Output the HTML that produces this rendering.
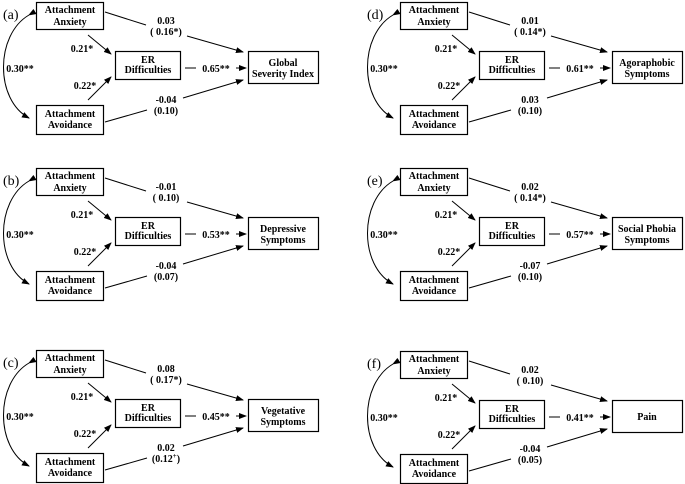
<!DOCTYPE html>
<html><head><meta charset="utf-8"><style>
html,body{margin:0;padding:0;background:#fff;}
svg{display:block;}
text{font-family:"Liberation Serif",serif;font-weight:bold;font-size:10px;fill:#000;}
.lab{font-weight:normal;font-size:14px;}
</style></head><body>
<svg width="685" height="484" viewBox="0 0 685 484" xmlns="http://www.w3.org/2000/svg">
<defs>
<marker id="ar" markerWidth="8" markerHeight="6" refX="7" refY="3" orient="auto" markerUnits="userSpaceOnUse">
<path d="M0,0 L8,3 L0,6 z" fill="#000"/></marker>
<g id="base" fill="none" stroke="#000">
<rect x="36.5" y="2.5" width="67" height="27" stroke-width="1.2"/>
<rect x="115.5" y="51.5" width="65" height="28" stroke-width="1.2"/>
<rect x="248.5" y="51.5" width="70" height="32" stroke-width="1.2"/>
<rect x="36.5" y="105.5" width="67" height="29" stroke-width="1.2"/>
<path d="M29,15 C-5,35 -5,100 29,118" stroke-width="1" marker-start="url(#ar)" marker-end="url(#ar)"/>
<path d="M105,12 L146,25" stroke-width="1"/>
<path d="M187,36 L243,52" stroke-width="1" marker-end="url(#ar)"/>
<path d="M88,35 L111,54" stroke-width="1" marker-end="url(#ar)"/>
<path d="M88,100 L111,77" stroke-width="1" marker-end="url(#ar)"/>
<path d="M185,68 L196,68" stroke-width="1"/>
<path d="M236,68 L246,68" stroke-width="1" marker-end="url(#ar)"/>
<path d="M105,122 L147,110" stroke-width="1"/>
<path d="M183,98 L243,80" stroke-width="1" marker-end="url(#ar)"/>
</g>
<g id="common" text-anchor="middle">
<text x="70" y="13">Attachment</text><text x="70" y="25">Anxiety</text>
<text x="148" y="63">ER</text><text x="148" y="73">Difficulties</text>
<text x="70" y="117">Attachment</text><text x="70" y="128">Avoidance</text>
<text x="20" y="72">0.30**</text>
<text x="82" y="52">0.21*</text>
<text x="85" y="89">0.22*</text>
</g>
</defs>

<!-- (a) -->
<g transform="translate(0,0)"><use href="#base"/><use href="#common"/>
<text class="lab" x="3" y="19">(a)</text>
<g text-anchor="middle"><text x="166" y="24">0.03</text><text x="166" y="35">( 0.16*)</text>
<text x="216" y="72">0.65**</text>
<text x="283" y="66">Global</text><text x="283" y="77">Severity Index</text>
<text x="166" y="103">-0.04</text><text x="166" y="114">(0.10)</text></g></g>

<!-- (b) -->
<g transform="translate(0,166)"><use href="#base"/><use href="#common"/>
<text class="lab" x="3" y="19">(b)</text>
<g text-anchor="middle"><text x="166" y="24">-0.01</text><text x="166" y="35">( 0.10)</text>
<text x="216" y="72">0.53**</text>
<text x="283" y="66">Depressive</text><text x="283" y="77">Symptoms</text>
<text x="166" y="103">-0.04</text><text x="166" y="114">(0.07)</text></g></g>

<!-- (c) -->
<g transform="translate(0,348)"><use href="#base"/><use href="#common"/>
<text class="lab" x="3" y="19">(c)</text>
<g text-anchor="middle"><text x="166" y="24">0.08</text><text x="166" y="35">( 0.17*)</text>
<text x="216" y="72">0.45**</text>
<text x="283" y="66">Vegetative</text><text x="283" y="77">Symptoms</text>
<text x="166" y="103">0.02</text><text x="166" y="114">(0.12<tspan font-size="7" dy="-4">+</tspan><tspan dy="4">)</tspan></text></g></g>

<!-- (d) -->
<g transform="translate(364,0)"><use href="#base"/><use href="#common"/>
<text class="lab" x="3" y="19">(d)</text>
<g text-anchor="middle"><text x="166" y="24">0.01</text><text x="166" y="35">( 0.14*)</text>
<text x="216" y="72">0.61**</text>
<text x="283" y="66">Agoraphobic</text><text x="283" y="77">Symptoms</text>
<text x="166" y="103">0.03</text><text x="166" y="114">(0.10)</text></g></g>

<!-- (e) -->
<g transform="translate(364,166)"><use href="#base"/><use href="#common"/>
<text class="lab" x="3" y="19">(e)</text>
<g text-anchor="middle"><text x="166" y="24">0.02</text><text x="166" y="35">( 0.14*)</text>
<text x="216" y="72">0.57**</text>
<text x="283" y="66">Social Phobia</text><text x="283" y="77">Symptoms</text>
<text x="166" y="103">-0.07</text><text x="166" y="114">(0.10)</text></g></g>

<!-- (f) -->
<g transform="translate(364,349)"><use href="#base"/><use href="#common"/>
<text class="lab" x="3" y="19">(f)</text>
<g text-anchor="middle"><text x="166" y="24">0.02</text><text x="166" y="35">( 0.10)</text>
<text x="216" y="72">0.41**</text>
<text x="283" y="71">Pain</text>
<text x="166" y="103">-0.04</text><text x="166" y="114">(0.05)</text></g></g>
</svg>
</body></html>
